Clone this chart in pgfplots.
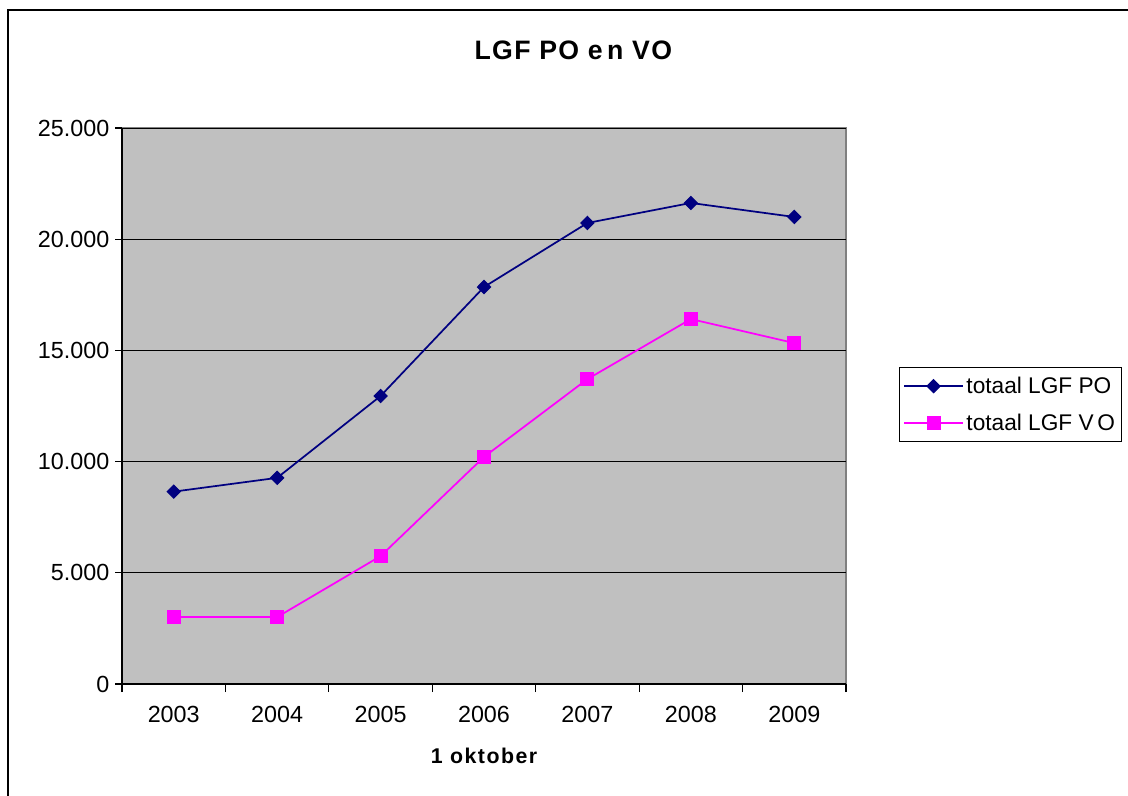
\documentclass[border=0pt]{standalone}
\usepackage{pgfplots}
\pgfplotsset{compat=1.18}
\usepackage{fontspec}
\setmainfont{Liberation Sans}
\definecolor{po}{RGB}{0,0,128}
\definecolor{vo}{RGB}{255,0,255}
\definecolor{plotbg}{RGB}{192,192,192}
\begin{document}
\begin{tikzpicture}
\useasboundingbox (0pt,0pt) rectangle (846pt,-597pt);
\draw[line width=2.2pt] (6pt,-600pt) -- (6pt,-7.5pt) -- (850pt,-7.5pt);
\node[font=\fontsize{20}{24}\selectfont\bfseries\addfontfeature{LetterSpace=5}] at (430pt,-37.5pt) {LGF PO e\,n VO};
\begin{axis}[
  at={(91.5pt,-513pt)}, anchor=south west,
  scale only axis, width=543pt, height=417pt,
  xmin=0.5, xmax=7.5, ymin=0, ymax=25000,
  scaled y ticks=false,
  axis x line*=bottom, axis y line*=left,
  axis line style={black, line width=1pt},
  axis background/.style={fill=plotbg, draw=gray, line width=0.8pt},
  xtick={1,...,7},
  xticklabels={2003,2004,2005,2006,2007,2008,2009},
  major x tick style={draw=none},
  minor xtick={0.5,1.5,...,7.5},
  minor x tick style={black, line width=0.8pt},
  minor tick length=6pt,
  ytick={0,5000,10000,15000,20000,25000},
  yticklabels={0,5.000,10.000,15.000,20.000,25.000},
  major y tick style={black, line width=0.8pt},
  major tick length=5pt,
  tick align=outside,
  ymajorgrids,
  grid style={black, line width=0.7pt},
  ticklabel style={font=\fontsize{17.5}{21}\selectfont},
  xticklabel style={yshift=-8pt},
  yticklabel style={xshift=-1pt},
  xlabel={1 oktober},
  xlabel style={font=\fontsize{16}{20}\selectfont\bfseries\addfontfeature{LetterSpace=7}, yshift=-12pt},
  legend style={at={(1.073,0.570)}, anchor=north west, draw=black, line width=0.8pt,
    font=\fontsize{17}{20}\selectfont, row sep=10pt, inner sep=5pt, inner xsep=3pt},
  legend cell align=left,
  legend image code/.code={\draw[#1] (0pt,0pt) -- (44pt,0pt); \draw[#1, mark repeat=1] plot coordinates {(22pt,0pt)};},
]
\addplot[po, line width=1.3pt, mark=diamond*, mark size=4.9pt, mark options={solid, xscale=1.33, fill=po, draw=po, line width=0.8pt}]
  coordinates {(1,8650) (2,9270) (3,12950) (4,17850) (5,20730) (6,21630) (7,21000)};
\addlegendentry{totaal LGF PO}
\addplot[vo, line width=1.3pt, mark=square*, mark size=4.8pt, mark options={solid, fill=vo, draw=vo, line width=0.8pt}]
  coordinates {(1,3010) (2,3010) (3,5750) (4,10210) (5,13710) (6,16410) (7,15330)};
\addlegendentry{totaal LGF V\,O}
\end{axis}
\end{tikzpicture}
\end{document}
